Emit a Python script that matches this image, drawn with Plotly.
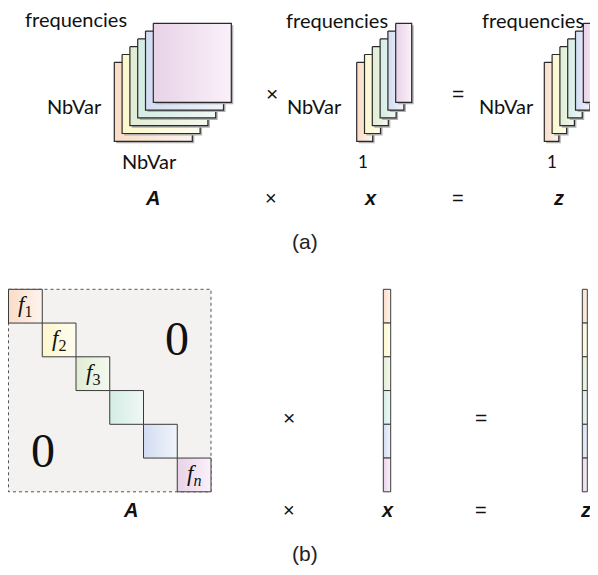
import plotly.graph_objects as go

# ---- data ----
layer_names = ["orange", "yellow", "green", "teal", "blue", "pink"]
layer_colors = ["#fadcc6", "#fcf7cc", "#e0edd3", "#d4ece4", "#d2dcf2", "#e8d2e8"]
layer_light = ["#fdf4ee", "#fefdf0", "#f4f9ef", "#f0f8f5", "#f1f4fb", "#faf1f9"]
diag_subs = ["1", "2", "3", "", "", "<i>n</i>"]
top_labels = ["A", "×", "x", "=", "z"]
dim_labels = ["frequencies", "NbVar", "NbVar", "1"]
panel_labels = ["(a)", "(b)"]

W, H = 598, 575
OFF = 8  # page body margin
fig = go.Figure()

def rect(x0, y0, x1, y1, c0, c1, line="#333333", lw=1, dash=None, shadow=False):
    if shadow:
        fig.add_trace(go.Scatter(x=[x0+2, x1+2, x1+2, x0+2, x0+2], y=[y0+2, y0+2, y1+2, y1+2, y0+2],
                                 mode="lines", fill="toself", fillcolor="#b0b0b0",
                                 line=dict(width=0, color="#b0b0b0"), hoverinfo="skip", showlegend=False))
    kw = {}
    if c0 == c1:
        kw["fillcolor"] = c0
    else:
        kw["fillgradient"] = dict(type="horizontal", colorscale=[[0, c0], [1, c1]])
    fig.add_trace(go.Scatter(x=[x0, x1, x1, x0, x0], y=[y0, y0, y1, y1, y0], mode="lines",
                             fill="toself", line=dict(color=line, width=lw, dash=dash),
                             hoverinfo="skip", showlegend=False, **kw))

# ---- (a) stacks ----
step = 7.8
def stack(left, top, w, h):
    for i in range(len(layer_colors)):
        x0 = left + step * i
        y0 = top - step * i
        rect(x0, y0, x0 + w, y0 + h, layer_colors[i], layer_light[i], line="#2a2a2a", lw=1.2, shadow=True)

stack(114.3, 62.3, 78, 79)
stack(356.7, 62.3, 16, 79)
stack(544.3, 62.3, 14.5, 79)

annots = []
def txt(x, y, s, size, family="Lato", color="#111111", xanchor="center"):
    annots.append(dict(x=x, y=y, text=s, showarrow=False, xref="x", yref="y",
                       font=dict(size=size, family=family, color=color), xanchor=xanchor, yanchor="middle"))

sans = "Lato"
txt(76, 19, dim_labels[0], 20, sans)
txt(337, 20, dim_labels[0], 20, sans)
txt(533, 20, dim_labels[0], 20, sans)
txt(74.5, 106, dim_labels[1], 20, sans)
txt(314, 106, dim_labels[1], 20, sans)
txt(506, 106, dim_labels[1], 20, sans)
txt(149, 161, dim_labels[2], 20, sans)
txt(363, 161, dim_labels[3], 17, sans)
txt(551.5, 161, dim_labels[3], 17, sans)
txt(272, 93, "×", 21, "Liberation Sans")
txt(458, 93, "=", 21, "Liberation Sans")

bi = "Liberation Sans"
xs_top = [152, 271, 370, 458, 558]
for xv, lab in zip(xs_top, top_labels):
    if lab in ("A", "x", "z"):
        txt(xv, 198, "<b><i>%s</i></b>" % lab, 20, bi)
    else:
        txt(xv, 198, lab, 20, bi)
txt(305, 241, panel_labels[0], 21, "Liberation Sans", color="#222222")

# ---- (b) ----
L, T, R = 8.5, 289.3, 211
S = R - L
rect(L, T, L + S, T + S, "#f3f2f1", "#f3f2f1", line="#555555", lw=1, dash="dot")
n = len(layer_colors)
b = S / n
for i in range(n):
    x0 = L + b * i
    y0 = T + b * i
    rect(x0, y0, x0 + b, y0 + b, layer_colors[i], layer_light[i], line="#3a3a3a", lw=1)
    if diag_subs[i]:
        txt(x0 + b / 2, y0 + b / 2, "<i>f</i><sub>%s</sub>" % diag_subs[i], 23, "Liberation Serif")
txt(176.7, 338, "0", 48, "Liberation Serif")
txt(42.7, 450, "0", 48, "Liberation Serif")

def vec(x0, x1):
    for i in range(n):
        y0 = T + b * i
        rect(x0, y0, x1, y0 + b, layer_colors[i], layer_light[i], line="#3a3a3a", lw=1)

vec(383.3, 390.7)
vec(582.3, 587.3)
txt(289, 417, "×", 21, "Liberation Sans")
txt(481, 417, "=", 21, "Liberation Sans")

xs_bot = [130, 289, 387, 481, 585]
for xv, lab in zip(xs_bot, top_labels):
    if lab in ("A", "x", "z"):
        txt(xv, 510, "<b><i>%s</i></b>" % lab, 20, bi)
    else:
        txt(xv, 510, lab, 20, bi)
txt(305, 553, panel_labels[1], 21, "Liberation Sans", color="#222222")

fig.update_layout(width=W - OFF, height=H - OFF, margin=dict(l=0, r=0, t=0, b=0),
                  plot_bgcolor="white", paper_bgcolor="white", annotations=annots,
                  xaxis=dict(range=[OFF, W], visible=False, fixedrange=True),
                  yaxis=dict(range=[H, OFF], visible=False, fixedrange=True))
fig.write_html("out.html")
